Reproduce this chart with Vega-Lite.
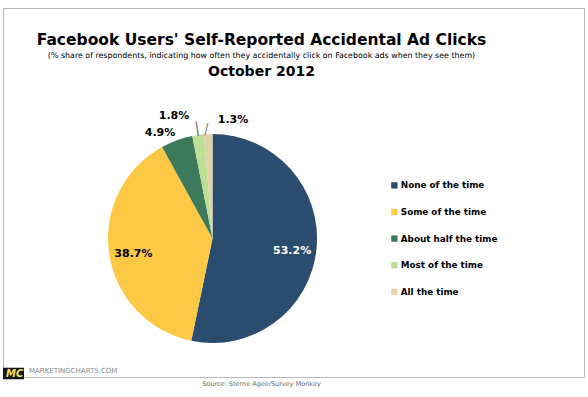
{
  "$schema": "https://vega.github.io/schema/vega-lite/v6.json",
  "width": 581,
  "height": 369,
  "autosize": {"type": "none"},
  "padding": {"left": 3, "top": 8, "right": 4, "bottom": 20},
  "background": "#ffffff",
  "view": {"stroke": "#b8b8b8", "strokeWidth": 1},
  "config": {"font": "DejaVu Sans"},
  "title": {
    "text": "Facebook Users' Self-Reported Accidental Ad Clicks",
    "subtitle": "(% share of respondents, indicating how often they accidentally click on Facebook ads when they see them)",
    "anchor": "middle",
    "frame": "group",
    "dx": -32,
    "offset": -52,
    "font": "DejaVu Sans",
    "fontSize": 15.5,
    "fontWeight": "bold",
    "color": "#000000",
    "subtitleFont": "DejaVu Sans",
    "subtitleFontSize": 7.9,
    "subtitleColor": "#000000",
    "subtitlePadding": 3.5
  },
  "data": {
    "values": [
      {"category": "None of the time", "share": 0.532},
      {"category": "Some of the time", "share": 0.387},
      {"category": "About half the time", "share": 0.049},
      {"category": "Most of the time", "share": 0.018},
      {"category": "All the time", "share": 0.013}
    ]
  },
  "layer": [
    {
      "mark": {"type": "point", "opacity": 0},
      "encoding": {
        "x": {
          "field": "category", "type": "nominal",
          "axis": {
            "orient": "top", "title": "October 2012", "labels": false, "ticks": false, "domain": false, "grid": false,
            "titleX": 258, "titleY": 67, "titleAlign": "center", "titleBaseline": "alphabetic",
            "titleFont": "DejaVu Sans", "titleFontSize": 14, "titleFontWeight": "bold", "titleColor": "#000000"
          }
        },
        "y": {
          "field": "share", "type": "quantitative",
          "axis": {
            "title": "Source: Sterne Agee/Survey Monkey", "labels": false, "ticks": false, "domain": false, "grid": false,
            "titleAngle": 0, "titleX": 258, "titleY": 377, "titleAlign": "center", "titleBaseline": "alphabetic",
            "titleFont": "DejaVu Sans", "titleFontSize": 6.5, "titleFontWeight": "normal", "titleColor": "#6a6a6a"
          }
        }
      }
    },
    {
      "mark": {"type": "arc", "x": {"expr": "width * 0.3606"}, "y": {"expr": "height * 0.6247"}, "radius": 104.5},
      "encoding": {
        "theta": {"field": "share", "type": "quantitative", "stack": true},
        "order": {"field": "share", "type": "quantitative", "sort": "descending"},
        "color": {
          "field": "category", "type": "nominal",
          "scale": {
            "domain": ["None of the time", "Some of the time", "About half the time", "Most of the time", "All the time"],
            "range": ["#2a4c6f", "#fdc843", "#3b7a5b", "#bcdf95", "#e2d2aa"]
          },
          "legend": {
            "orient": "none", "legendX": 387, "legendY": 173, "title": null, "padding": 0,
            "symbolType": "square", "symbolSize": 40, "symbolStrokeWidth": 0,
            "labelFont": "DejaVu Sans", "labelFontSize": 8.8, "labelFontWeight": "bold", "labelColor": "#000000",
            "labelOffset": 2, "rowPadding": 16.6
          }
        }
      }
    },
    {
      "mark": {"type": "text", "x": {"expr": "width * 0.3606"}, "y": {"expr": "height * 0.6247"}, "radius": 80, "dy": 4, "font": "DejaVu Sans", "fontWeight": "bold", "fontSize": 11},
      "encoding": {
        "theta": {"field": "share", "type": "quantitative", "stack": true},
        "order": {"field": "share", "type": "quantitative", "sort": "descending"},
        "text": {"condition": {"test": "datum.share > 0.1", "field": "share", "type": "quantitative", "format": ".1%"}, "value": ""},
        "color": {"condition": {"test": "datum.category === 'None of the time'", "value": "#ffffff"}, "value": "#000000"}
      }
    },
    {
      "mark": {"type": "text", "x": {"expr": "width * 0.3606"}, "y": {"expr": "height * 0.6247"}, "radius": 117.8, "thetaOffset": -0.113, "font": "DejaVu Sans", "fontWeight": "bold", "fontSize": 11, "color": "#000000"},
      "encoding": {
        "theta": {"field": "share", "type": "quantitative", "stack": true},
        "order": {"field": "share", "type": "quantitative", "sort": "descending"},
        "text": {"condition": {"test": "datum.category === 'About half the time'", "field": "share", "type": "quantitative", "format": ".1%"}, "value": ""}
      }
    },
    {
      "mark": {"type": "text", "x": {"expr": "width * 0.3606"}, "y": {"expr": "height * 0.6247"}, "radius": 128.4, "thetaOffset": -0.166, "font": "DejaVu Sans", "fontWeight": "bold", "fontSize": 11, "color": "#000000"},
      "encoding": {
        "theta": {"field": "share", "type": "quantitative", "stack": true},
        "order": {"field": "share", "type": "quantitative", "sort": "descending"},
        "text": {"condition": {"test": "datum.category === 'Most of the time'", "field": "share", "type": "quantitative", "format": ".1%"}, "value": ""}
      }
    },
    {
      "mark": {"type": "text", "x": {"expr": "width * 0.3606"}, "y": {"expr": "height * 0.6247"}, "radius": 120.3, "thetaOffset": 0.212, "font": "DejaVu Sans", "fontWeight": "bold", "fontSize": 11, "color": "#000000"},
      "encoding": {
        "theta": {"field": "share", "type": "quantitative", "stack": true},
        "order": {"field": "share", "type": "quantitative", "sort": "descending"},
        "text": {"condition": {"test": "datum.category === 'All the time'", "field": "share", "type": "quantitative", "format": ".1%"}, "value": ""}
      }
    },
    {
      "mark": {"type": "text", "x": {"expr": "width * 0.3606"}, "y": {"expr": "height * 0.6247"}, "radius": 112, "angle": -8, "font": "DejaVu Sans", "fontWeight": "normal", "fontSize": 15, "color": "#7a7a7a"},
      "encoding": {
        "theta": {"field": "share", "type": "quantitative", "stack": true},
        "order": {"field": "share", "type": "quantitative", "sort": "descending"},
        "text": {"condition": {"test": "datum.category === 'Most of the time'", "value": "|"}, "value": ""}
      }
    },
    {
      "mark": {"type": "text", "x": {"expr": "width * 0.3606"}, "y": {"expr": "height * 0.6247"}, "radius": 110, "thetaOffset": -0.013, "angle": 14, "font": "DejaVu Sans", "fontWeight": "normal", "fontSize": 12.5, "color": "#7a7a7a"},
      "encoding": {
        "theta": {"field": "share", "type": "quantitative", "stack": true},
        "order": {"field": "share", "type": "quantitative", "sort": "descending"},
        "text": {"condition": {"test": "datum.category === 'All the time'", "value": "|"}, "value": ""}
      }
    },
    {
      "data": {"values": [{"brand": "MC"}]},
      "mark": {"type": "point", "size": 0, "opacity": 1, "filled": true, "color": "#151515"},
      "encoding": {
        "shape": {
          "field": "brand", "type": "nominal",
          "scale": {"range": ["M-1,-0.55H1V0.55H-1Z"]},
          "legend": {
            "orient": "none", "legendX": 0, "legendY": 355, "padding": 0,
            "title": "MARKETINGCHARTS.COM", "titleOrient": "right", "titleFont": "DejaVu Sans", "titleFontSize": 7,
            "titleFontWeight": "normal", "titleColor": "#8a8a8a", "titlePadding": 5,
            "symbolSize": 441, "symbolStrokeWidth": 0, "symbolFillColor": "#151515", "symbolOpacity": 1,
            "labelFont": "DejaVu Sans", "labelFontSize": 10, "labelFontWeight": "bold", "labelFontStyle": "italic",
            "labelColor": "#f2e35c", "labelOffset": -18
          }
        }
      }
    }
  ]
}
